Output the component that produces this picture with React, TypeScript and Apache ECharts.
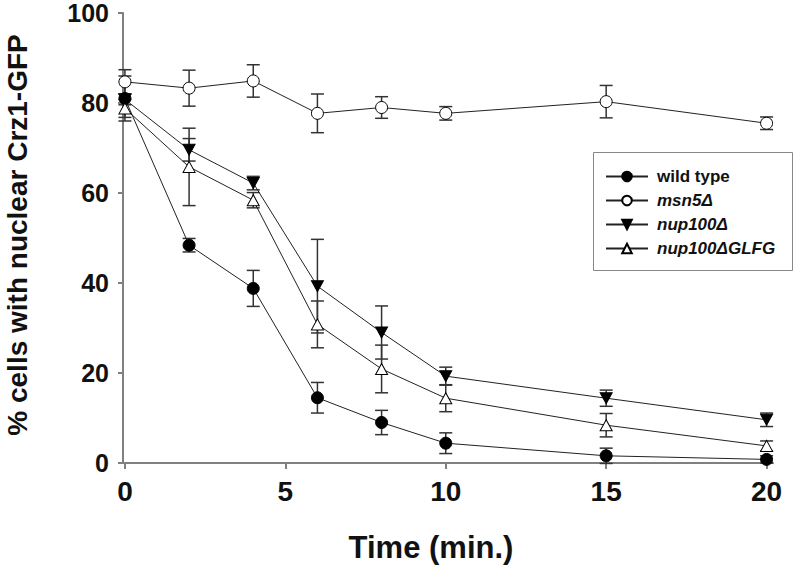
import React, { useEffect, useRef } from 'react';
import * as echarts from 'echarts';

const times = [0, 2, 4, 6, 8, 10, 15, 20];
const wildType = [81, 48.4, 38.8, 14.5, 9.0, 4.4, 1.6, 0.8];
const wildTypeErr = [5, 1.5, 4, 3.4, 2.7, 2.3, 1.7, 0.8];
const msn5 = [84.7, 83.3, 84.9, 77.7, 79.0, 77.7, 80.3, 75.5];
const msn5Err = [2.7, 4, 3.6, 4.3, 2.4, 1.5, 3.6, 1.4];
const nup100 = [80.8, 69.6, 62.2, 39.3, 29.0, 19.3, 14.4, 9.6];
const nup100Err = [1.2, 2.5, 1.5, 10.4, 5.9, 2, 1.8, 1.5];
const glfg = [78.8, 65.8, 58.4, 30.8, 20.9, 14.4, 8.4, 3.8];
const glfgErr = [2, 8.6, 1.7, 5.2, 5.3, 3, 2.6, 1.1];
const xTicks = [0, 5, 10, 15, 20];
const seriesNames = ['wild type', 'msn5Δ', 'nup100Δ', 'nup100ΔGLFG'];

const FONT = '"Liberation Sans", Arial, Helvetica, sans-serif';
const AXIS_COLOR = '#808080';
const LINE_COLOR = '#222';

export default function App() {
  const ref = useRef<HTMLDivElement>(null);

  useEffect(() => {
    if (!ref.current) return;
    const chart = echarts.init(ref.current, undefined, { renderer: 'svg' });

    const groups = [
      { name: seriesNames[0], vals: wildType, err: wildTypeErr, symbol: 'circle', size: 12, fill: '#000' },
      { name: seriesNames[1], vals: msn5, err: msn5Err, symbol: 'circle', size: 12, fill: '#fff' },
      { name: seriesNames[2], vals: nup100, err: nup100Err, symbol: 'path://M0,0L10,0L5,9Z', size: [12, 11], fill: '#000' },
      { name: seriesNames[3], vals: glfg, err: glfgErr, symbol: 'triangle', size: [12, 11], fill: '#fff' },
    ];

    const errSeries = groups.map((g, gi) => ({
      type: 'custom',
      name: 'err' + gi,
      z: 2,
      clip: false,
      encode: { x: 0, y: [1, 2] },
      data: times.map((t, i) => [t, g.vals[i] - g.err[i], g.vals[i] + g.err[i]]),
      renderItem: (params: any, api: any) => {
        const x = api.value(0);
        const lo = api.coord([x, api.value(1)]);
        const hi = api.coord([x, api.value(2)]);
        const w = 6.5;
        const style = { stroke: '#333', lineWidth: 1.5 };
        return {
          type: 'group',
          children: [
            { type: 'line', shape: { x1: lo[0], y1: lo[1], x2: hi[0], y2: hi[1] }, style },
            { type: 'line', shape: { x1: lo[0] - w, y1: lo[1], x2: lo[0] + w, y2: lo[1] }, style },
            { type: 'line', shape: { x1: hi[0] - w, y1: hi[1], x2: hi[0] + w, y2: hi[1] }, style },
          ],
        };
      },
    }));

    const lineSeries = groups.map((g) => ({
      type: 'line',
      name: g.name,
      z: 3,
      data: times.map((t, i) => [t, g.vals[i]]),
      symbol: g.symbol,
      symbolSize: g.size,
      showAllSymbol: true,
      lineStyle: { color: LINE_COLOR, width: 1 },
      itemStyle: { color: g.fill, borderColor: '#000', borderWidth: 1 },
      emphasis: { disabled: true },
    }));

    const option: any = {
      animation: false,
      backgroundColor: '#fff',
      grid: { left: 123, right: 27, top: 13, bottom: 103, containLabel: false },
      xAxis: {
        type: 'value',
        min: -0.06,
        max: 20.2,
        splitLine: { show: false },
        axisLine: { show: true, onZero: false, lineStyle: { color: AXIS_COLOR, width: 2 } },
        axisTick: { show: true, customValues: xTicks, length: 6, lineStyle: { color: AXIS_COLOR, width: 2 } },
        axisLabel: {
          customValues: xTicks,
          fontFamily: FONT,
          fontSize: 28,
          fontWeight: 'bold',
          color: '#111',
          margin: 14,
        },
      },
      yAxis: {
        type: 'value',
        min: 0,
        max: 100,
        interval: 20,
        splitLine: { show: false },
        axisLine: { show: true, onZero: false, lineStyle: { color: AXIS_COLOR, width: 2 } },
        axisTick: { show: true, length: 5, lineStyle: { color: AXIS_COLOR, width: 2 } },
        axisLabel: {
          fontFamily: FONT,
          fontSize: 25,
          fontWeight: 'bold',
          color: '#111',
          margin: 14,
        },
      },
      legend: {
        data: seriesNames,
        orient: 'vertical',
        left: 605,
        top: 168,
        padding: 0,
        itemWidth: 42,
        itemHeight: 12,
        itemGap: 7,
        selectedMode: false,
        textStyle: {
          fontFamily: FONT,
          fontSize: 17,
          fontWeight: 'bold',
          color: '#111',
          lineHeight: 16,
          rich: {
            n: { fontFamily: FONT, fontSize: 17, fontWeight: 'bold', color: '#111', lineHeight: 16, padding: [0, 0, 0, 4] },
            i: { fontFamily: FONT, fontSize: 17, fontWeight: 'bold', fontStyle: 'italic', color: '#111', lineHeight: 16, padding: [0, 0, 0, 4] },
          },
        },
        formatter: (name: string) => (name === 'wild type' ? `{n|${name}}` : `{i|${name}}`),
      },
      graphic: [
        {
          type: 'rect',
          shape: { x: 593.5, y: 152.5, width: 199, height: 118 },
          style: { fill: 'none', stroke: '#888', lineWidth: 1 },
          z: 1,
        },
        {
          type: 'text',
          x: 431,
          y: 547,
          style: {
            text: 'Time (min.)',
            font: `bold 31px ${FONT}`,
            fill: '#111',
            textAlign: 'center',
            textVerticalAlign: 'middle',
          },
        },
        {
          type: 'text',
          x: 17,
          y: 235,
          rotation: Math.PI / 2,
          style: {
            text: '% cells with nuclear Crz1-GFP',
            font: `bold 28px ${FONT}`,
            fill: '#111',
            textAlign: 'center',
            textVerticalAlign: 'middle',
          },
        },
      ],
      series: [...errSeries, ...lineSeries],
    };

    chart.setOption(option);
    return () => chart.dispose();
  }, []);

  return <div ref={ref} style={{ width: 800, height: 566, position: 'absolute', left: 0, top: 0 }} />;
}
